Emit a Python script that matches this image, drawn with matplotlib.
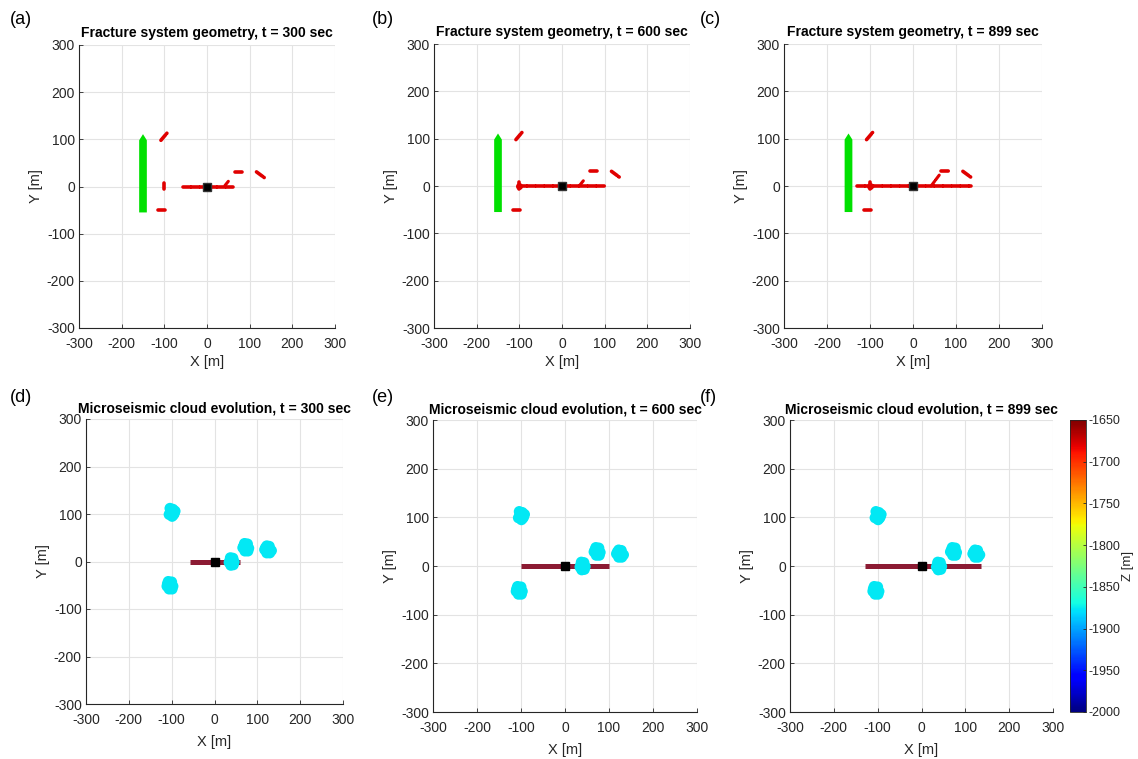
import numpy as np
import matplotlib
matplotlib.use("Agg")
import matplotlib.pyplot as plt
from matplotlib.colors import Normalize
from matplotlib.cm import ScalarMappable

plt.rcParams["font.family"] = ["Liberation Sans", "DejaVu Sans"]
plt.rcParams["axes.unicode_minus"] = False

# ---------------- data ----------------
times = [300, 600, 899]

# hydraulic fracture tips along y = 0 at each time [m]
hf_left = [-57, -100, -130]
hf_right = [60, 100, 135]

# activated branch leaving the main fracture near x = 42 m
branch_x0 = [42, 42, 42]
branch_y0 = [2, 2, 0]
branch_x1 = [50, 50, 61]
branch_y1 = [11, 11, 23]

# pre-existing natural fractures (segment end points) [m]
nf_x0 = [-108, -101, -114, 66, 116]
nf_y0 = [98, -6, -50, 31, 31]
nf_x1 = [-94, -101, -98, 83, 134]
nf_y1 = [113, 8, -50, 31, 19]

# vertical well trace [m]
well_x = -150
well_bottom = -55
well_top = 98
well_tip = 111

# microseismic events (x, y, z) [m]
ev_x = [-104, -97, -101, -94, -106, -99, -92, -103, -96,
        -108, -100, -104, -97, -111, -106, -99, -103, -110,
        37, 43, 40, 46, 34, 38, 44, 41, 36,
        70, 77, 73, 80, 66, 71, 78, 74, 68,
        122, 128, 125, 133, 117, 122, 129, 125, 119]
ev_y = [112, 110, 103, 101, 99, 95, 106, 106, 98,
        -42, -43, -50, -52, -52, -58, -58, -46, -47,
        8, 7, 0, -1, -2, -8, -7, 3, 3,
        38, 37, 30, 28, 29, 22, 22, 34, 33,
        33, 32, 25, 23, 25, 18, 18, 29, 29]
ev_z = [-1876] * len(ev_x)

z_min, z_max = -2000, -1650
z_ticks = list(range(-2000, -1649, 50))
xy_ticks = [-300, -200, -100, 0, 100, 200, 300]

# ---------------- figure ----------------
W, H = 1138, 759
fig = plt.figure(figsize=(W / 100, H / 100), dpi=100)


def px_axes(l, r, t, b):
    return fig.add_axes([l / W, (H - b) / H, (r - l) / W, (b - t) / H])


top_boxes = [(79, 335, 45, 328), (434, 690, 44, 328), (784, 1042, 44, 328)]
bot_boxes = [(86, 343, 419, 704), (433, 697, 420, 712), (790, 1053, 420, 712)]
top_tags = ["(a)", "(b)", "(c)"]
bot_tags = ["(d)", "(e)", "(f)"]
top_tag_pos = [(10, 20), (372, 20), (700, 20)]
bot_tag_pos = [(10, 397), (372, 397), (700, 397)]

tick_col = "#262626"
grid_col = "#e3e3e3"
red = "#e00000"
maroon = "#8c1b33"
green = "#00e000"


def style(ax, xpad):
    ax.set_xlim(-300, 300)
    ax.set_ylim(-300, 300)
    ax.set_xticks(xy_ticks)
    ax.set_yticks(xy_ticks)
    ax.grid(True, color=grid_col, lw=0.8)
    ax.set_axisbelow(True)
    for s in ("top", "right"):
        ax.spines[s].set_visible(False)
    for s in ("left", "bottom"):
        ax.spines[s].set_color(tick_col)
        ax.spines[s].set_linewidth(0.8)
    ax.tick_params(direction="in", length=3, width=0.6, colors=tick_col,
                   labelsize=10)
    ax.tick_params(axis="x", pad=6.5)
    ax.tick_params(axis="y", pad=3)
    ax.set_xlabel("X [m]", fontsize=10.5, color=tick_col, labelpad=xpad)
    ax.set_ylabel("Y [m]", fontsize=10.5, color=tick_col, labelpad=3)


norm = Normalize(vmin=z_min, vmax=z_max)
cmap = plt.get_cmap("jet")

for i, t in enumerate(times):
    # ---- fracture system geometry ----
    ax = px_axes(*top_boxes[i])
    style(ax, 3)
    ax.set_title(f"Fracture system geometry, t = {t} sec", fontsize=10,
                 fontweight="bold", pad=6)
    # well
    hw = 9
    ax.fill([well_x - hw, well_x + hw, well_x + hw, well_x, well_x - hw],
            [well_bottom, well_bottom, well_top, well_tip, well_top],
            color=green, lw=0, zorder=3)
    # natural fractures
    for x0, y0, x1, y1 in zip(nf_x0, nf_y0, nf_x1, nf_y1):
        ax.plot([x0, x1], [y0, y1], color=red, lw=2.6,
                ls=(0, (2.0, 0.5)), dash_capstyle="round", zorder=4)
    # activated branch
    ax.plot([branch_x0[i], branch_x1[i]], [branch_y0[i], branch_y1[i]],
            color=red, lw=2.2, ls=(0, (2.0, 0.5)), dash_capstyle="round",
            zorder=4)
    # hydraulic fracture
    ax.plot([hf_left[i], hf_right[i]], [0, 0], color=red, lw=2.6,
            ls=(0, (2.0, 0.4)), dash_capstyle="round", zorder=5)
    if i > 0:
        ax.plot([-101], [0], marker="o", ms=4, color=red, zorder=5)
    ax.plot([0], [0], marker="s", ms=5.5, color="black", mec="#333333",
            zorder=6)
    fig.text(top_tag_pos[i][0] / W, 1 - top_tag_pos[i][1] / H, top_tags[i],
             fontsize=13, va="center", ha="left")

    # ---- microseismic cloud ----
    ax = px_axes(*bot_boxes[i])
    style(ax, 6)
    ax.set_title(f"Microseismic cloud evolution, t = {t} sec", fontsize=10,
                 fontweight="bold", pad=5)
    ax.plot([hf_left[i], hf_right[i]], [0, 0], color=maroon, lw=3.6,
            solid_capstyle="butt", zorder=3)
    ax.plot([0], [0], marker="s", ms=5.5, color="black", zorder=4)
    ax.scatter(ev_x, ev_y, c=ev_z, cmap=cmap, norm=norm, s=62,
               edgecolors="none", zorder=5)
    fig.text(bot_tag_pos[i][0] / W, 1 - bot_tag_pos[i][1] / H, bot_tags[i],
             fontsize=13, va="center", ha="left")

# colour bar
cax = px_axes(1070, 1086, 420, 712)
cb = fig.colorbar(ScalarMappable(norm=norm, cmap=cmap), cax=cax,
                  ticks=z_ticks)
cb.outline.set_linewidth(0.6)
cb.outline.set_edgecolor(tick_col)
cax.tick_params(direction="in", length=2.5, width=0.6, colors=tick_col,
                labelsize=9, pad=2)
cb.set_label("Z [m]", fontsize=9.5, color=tick_col, rotation=90, labelpad=1)

fig.savefig("out.png", dpi=100, facecolor="white")
